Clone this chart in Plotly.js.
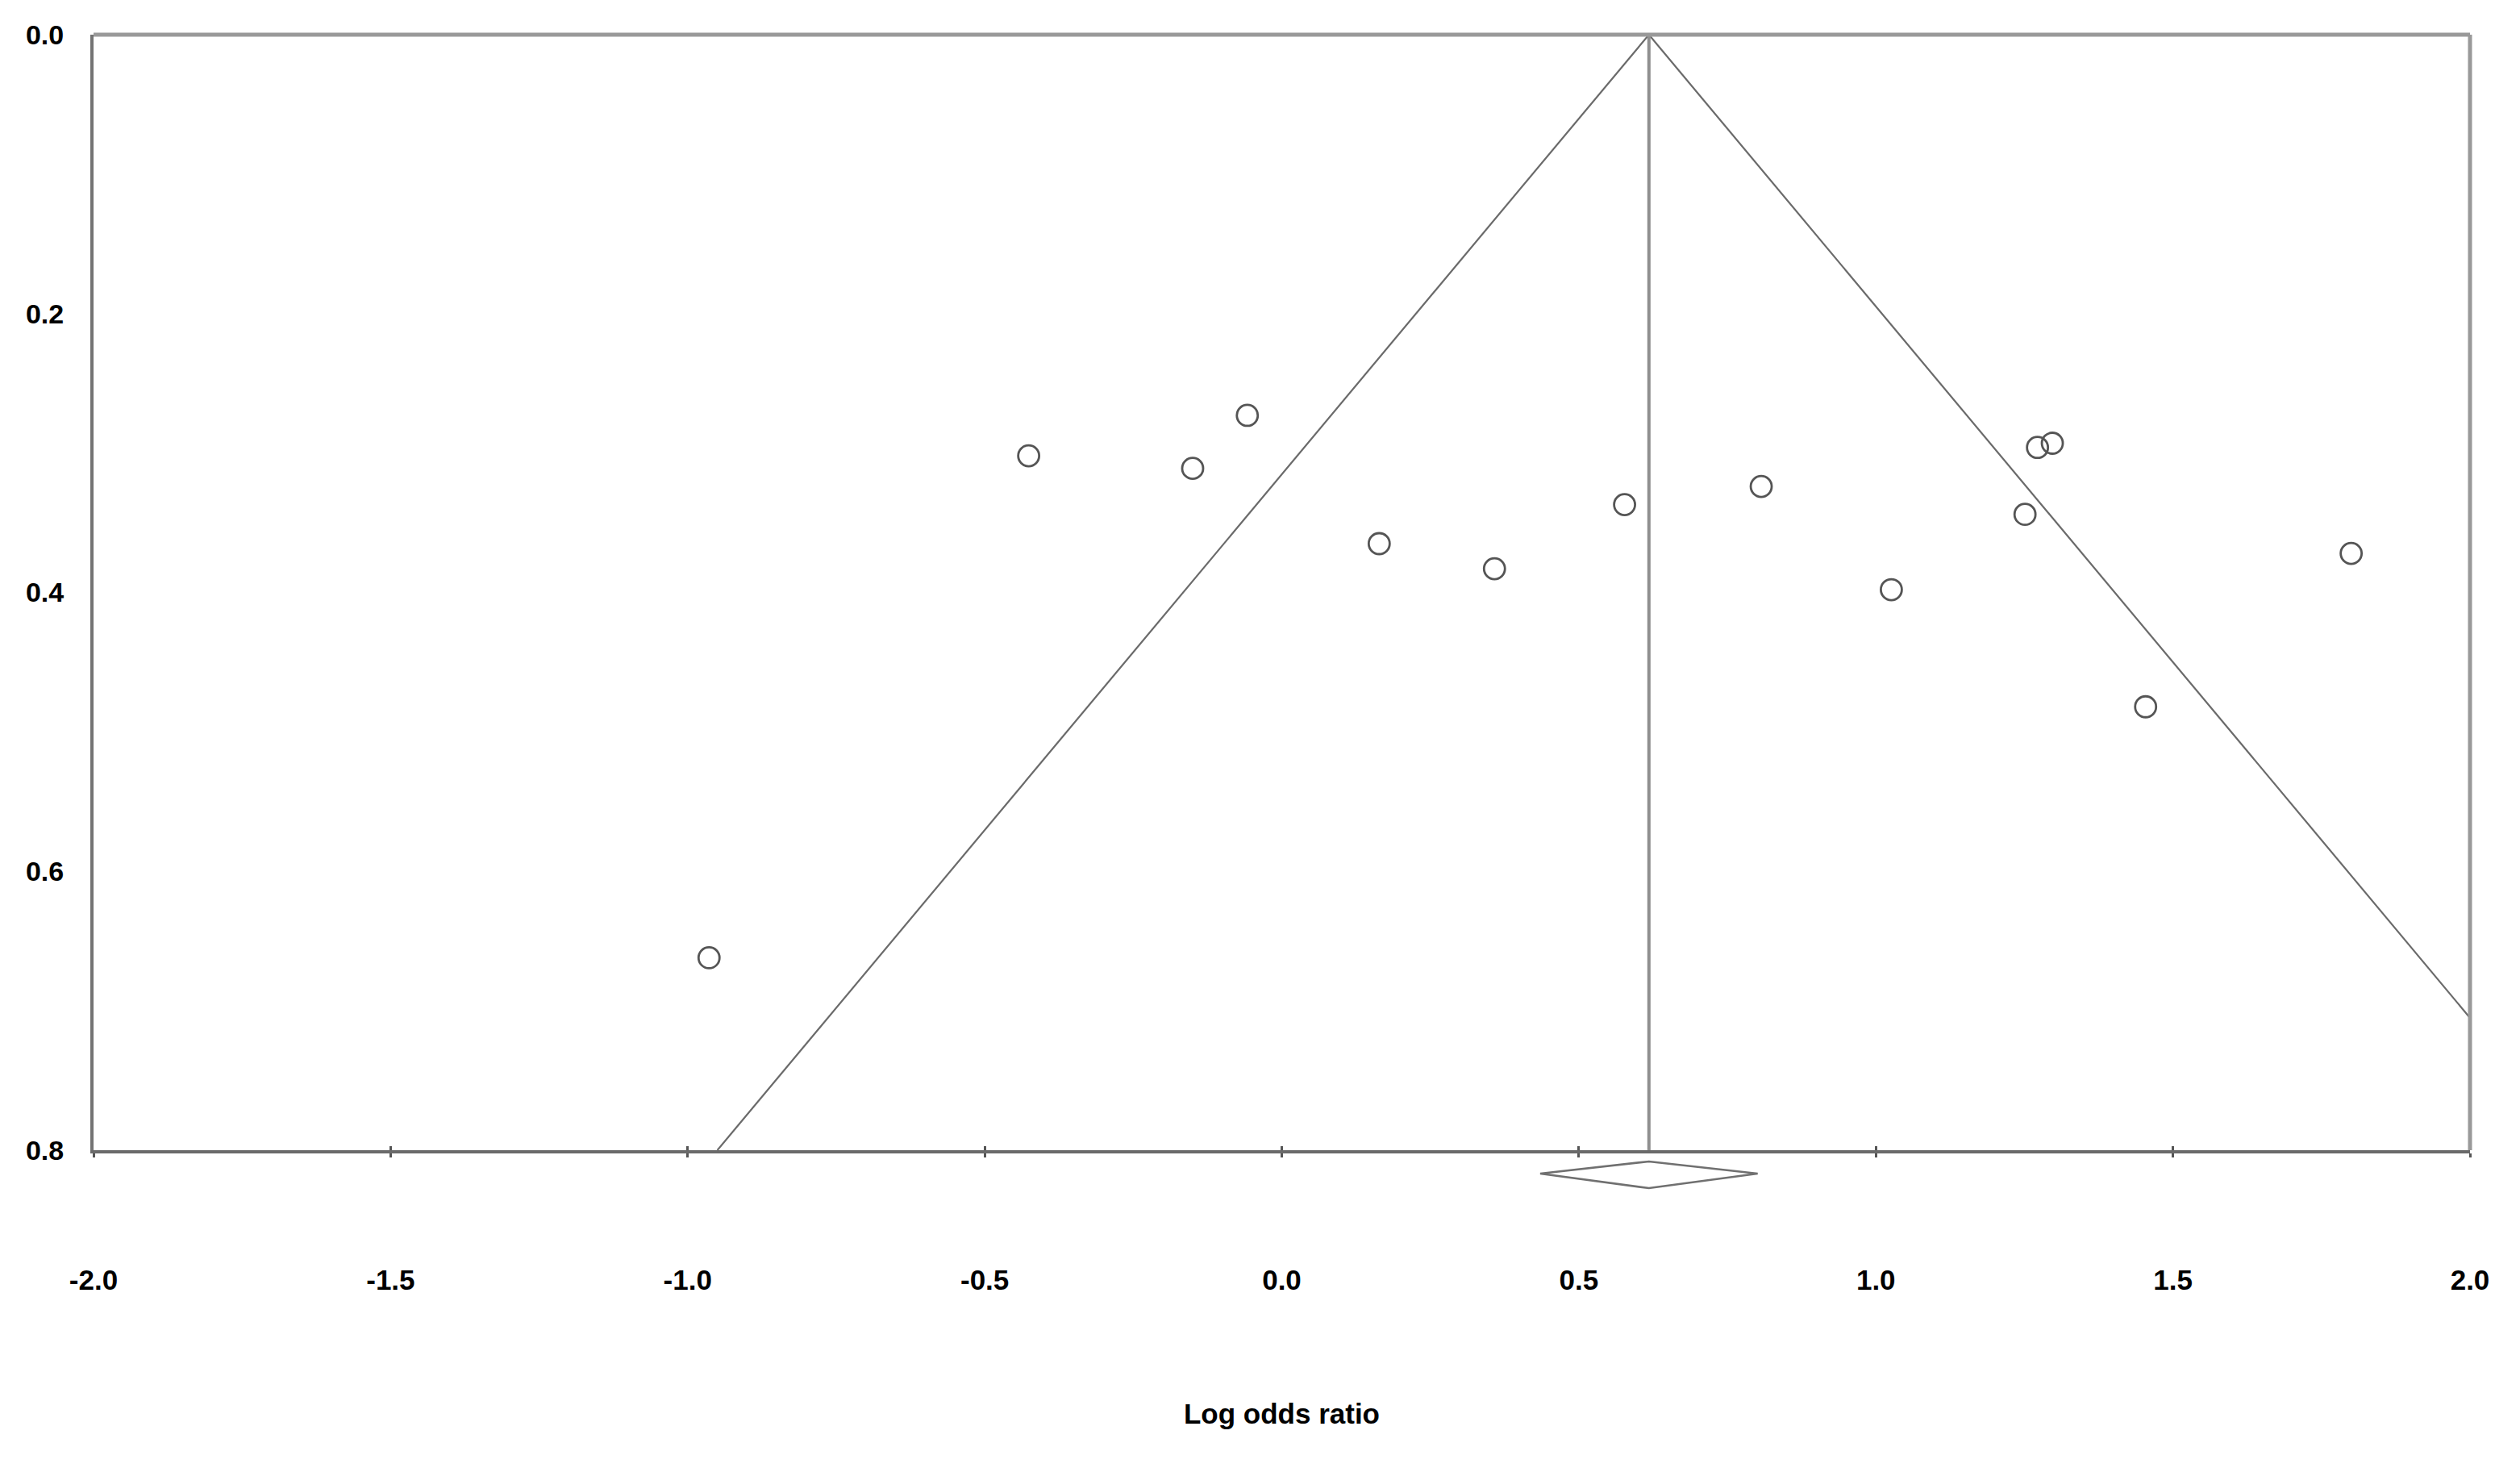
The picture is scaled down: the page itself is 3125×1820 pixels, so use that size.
<!DOCTYPE html>
<html>
<head>
<meta charset="utf-8">
<script src="https://cdn.plot.ly/plotly-3.0.1.min.js"></script>
<style>
  html, body { margin: 0; padding: 0; background: #ffffff; }
  #chart { width: 3125px; height: 1820px; }
</style>
</head>
<body>
<div id="chart"></div>
<script>
// Study estimates (log odds ratio) and their standard errors
const logOddsRatio = [-0.964, -0.426, -0.150, -0.058, 0.164, 0.358, 0.577, 0.807, 1.026, 1.251, 1.272, 1.297, 1.454, 1.800];
const standardError = [0.662, 0.302, 0.311, 0.273, 0.365, 0.383, 0.337, 0.324, 0.398, 0.344, 0.296, 0.293, 0.482, 0.372];

// Pooled estimate and its confidence interval (diamond)
const pooledEstimate = [0.618];
const pooledCI = [0.435, 0.801];

// Funnel extent (standard error axis)
const seLimits = [0, 0.8];
const zCrit = 1.96;

const xTickVals = [-2.0, -1.5, -1.0, -0.5, 0.0, 0.5, 1.0, 1.5, 2.0];
const xTickText = ["-2.0", "-1.5", "-1.0", "-0.5", "0.0", "0.5", "1.0", "1.5", "2.0"];
const yTickVals = [0.0, 0.2, 0.4, 0.6, 0.8];
const yTickText = ["0.0", "0.2", "0.4", "0.6", "0.8"];

const FONT = "Arial, 'Liberation Sans', sans-serif";
const mu = pooledEstimate[0];

const funnelLeft = {
  x: seLimits.map(s => mu - zCrit * s),
  y: seLimits,
  mode: "lines",
  line: { color: "#6a6a6a", width: 2.2 },
  hoverinfo: "skip",
  showlegend: false
};
const funnelRight = {
  x: seLimits.map(s => mu + zCrit * s),
  y: seLimits,
  mode: "lines",
  line: { color: "#6a6a6a", width: 2.2 },
  hoverinfo: "skip",
  showlegend: false
};
const centerLine = {
  x: seLimits.map(() => mu),
  y: seLimits,
  mode: "lines",
  line: { color: "#8f8f8f", width: 4 },
  hoverinfo: "skip",
  showlegend: false
};
const studies = {
  x: logOddsRatio,
  y: standardError,
  mode: "markers",
  marker: {
    symbol: "circle-open",
    size: 26,
    color: "#555555",
    line: { color: "#555555", width: 2.8 }
  },
  showlegend: false
};
// invisible trace so the overlay axis (inner tick marks) is drawn
const tickOverlay = {
  x: xTickVals,
  y: xTickVals.map(() => null),
  xaxis: "x2",
  mode: "markers",
  hoverinfo: "skip",
  showlegend: false
};

// Diamond for the pooled estimate, drawn just below the plot area
const dTop = -0.0101, dMid = -0.0210, dBot = -0.0340;
const diamondPath = "M " + pooledCI[0] + " " + dMid +
  " L " + mu + " " + dTop +
  " L " + pooledCI[1] + " " + dMid +
  " L " + mu + " " + dBot + " Z";

const layout = {
  width: 3125,
  height: 1820,
  paper_bgcolor: "#ffffff",
  plot_bgcolor: "#ffffff",
  margin: { l: 116, r: 62, t: 43, b: 394 },
  font: { family: FONT, size: 34, color: "#000000" },
  showlegend: false,
  xaxis: {
    range: [-2, 2],
    tickvals: xTickVals,
    ticktext: xTickText,
    tickfont: { family: FONT, size: 35, color: "#000000", weight: "bold" },
    ticks: "outside",
    ticklen: 5,
    tickwidth: 3,
    tickcolor: "#555555",
    ticklabelstandoff: 122,
    showgrid: false,
    zeroline: false,
    showline: true,
    linecolor: "#6a6a6a",
    linewidth: 4,
    mirror: false,
    automargin: false,
    title: {
      text: "Log odds ratio",
      font: { family: FONT, size: 35, color: "#000000", weight: "bold" },
      standoff: 136
    }
  },
  xaxis2: {
    overlaying: "x",
    side: "bottom",
    anchor: "y",
    range: [-2, 2],
    tickvals: xTickVals,
    showticklabels: false,
    ticks: "inside",
    ticklen: 5,
    tickwidth: 3,
    tickcolor: "#555555",
    showgrid: false,
    zeroline: false,
    showline: false,
    automargin: false
  },
  yaxis: {
    range: [0.8, 0],
    tickvals: yTickVals,
    ticktext: yTickText,
    tickfont: { family: FONT, size: 34, color: "#000000", weight: "bold" },
    ticks: "",
    ticklabelstandoff: 26,
    showgrid: false,
    zeroline: false,
    showline: true,
    linecolor: "#737373",
    linewidth: 4,
    automargin: false
  },
  shapes: [
    // top and right frame lines
    { type: "line", xref: "paper", yref: "paper", x0: 0, x1: 1, y0: 1, y1: 1,
      line: { color: "#999999", width: 5 } },
    { type: "line", xref: "paper", yref: "paper", x0: 1, x1: 1, y0: 0, y1: 1,
      line: { color: "#999999", width: 5 } },
    { type: "path", xref: "x", yref: "paper", path: diamondPath,
      fillcolor: "#ffffff", line: { color: "#707070", width: 2.6 } }
  ]
};

Plotly.newPlot("chart", [funnelLeft, funnelRight, centerLine, studies, tickOverlay], layout,
  { staticPlot: true, displayModeBar: false });
</script>
</body>
</html>
